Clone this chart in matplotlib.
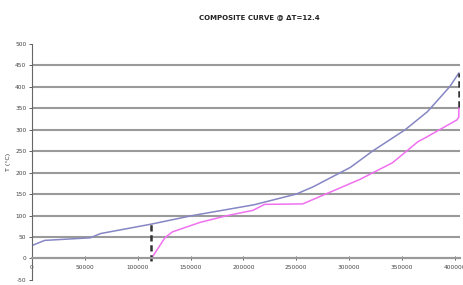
import numpy as np
import matplotlib.pyplot as plt

# ================================================================
# Data
# ================================================================
HOT_X = [0, 12000, 55000, 65000, 113000, 152000, 210000, 250000, 266000,
         301000, 322000, 353000, 374000, 395000, 403700]
HOT_T = [30, 42, 48, 58, 80, 100, 125, 150, 167,
         212, 250, 300, 342, 400, 432]

COLD_X = [113000, 126000, 133000, 159000, 185000, 209000, 220000, 256000,
          310000, 341000, 365000, 374000, 402000, 403700, 403700]
COLD_T = [0, 49, 62, 84, 100, 112, 126, 127,
          184, 223, 272, 284, 323, 330, 352]

PINCH_LOW = (113000, -5, 80)       # x, y from, y to
PINCH_HIGH = (403700, 352, 432)

X_TICKS = [0, 50000, 100000, 150000, 200000, 250000, 300000, 350000, 400000]
Y_TICKS = [-50, 0, 50, 100, 150, 200, 250, 300, 350, 400, 450, 500]

# ================================================================
# Figure
# ================================================================
fig = plt.figure(figsize=(4.63, 2.85), dpi=100)
ax = fig.add_axes([0.069, 0.018, 0.925, 0.828])

ax.plot(HOT_X, HOT_T, color="#8686c4", lw=1.1)
ax.plot(COLD_X, COLD_T, color="#f070f0", lw=1.1)
for x, y0, y1 in (PINCH_LOW, PINCH_HIGH):
    ax.plot([x, x], [y0, y1], color="#333333", lw=1.8, ls=(0, (2.5, 1.5)))

ax.set_xlim(0, 405000)
ax.set_ylim(-50, 500)
ax.set_xticks(X_TICKS)
ax.set_yticks(Y_TICKS)
ax.set_xticklabels([str(v) for v in X_TICKS])
ax.set_yticklabels([str(v) for v in Y_TICKS])

ax.grid(axis="y", color="#9a9a9a", lw=1.5)
gl = ax.get_ygridlines()
gl[0].set_visible(False)
gl[-1].set_visible(False)
ax.set_axisbelow(True)

for s in ("top", "right"):
    ax.spines[s].set_visible(False)
ax.spines["bottom"].set_position(("data", 0))
ax.spines["bottom"].set_color("#9a9a9a")
ax.spines["bottom"].set_linewidth(1.5)
ax.spines["left"].set_color("#666666")
ax.spines["left"].set_linewidth(0.8)

ax.tick_params(axis="both", labelsize=4.2, colors="#444444", length=2,
               width=0.6, pad=2)
ax.tick_params(axis="x", direction="inout", length=3, pad=3)

ax.set_ylabel("T (°C)", fontsize=4.5, color="#333333", labelpad=3)
fig.text(0.56, 0.94, "COMPOSITE CURVE @ ΔT=12.4", ha="center", va="center",
         fontsize=5, fontweight="bold", color="#222222")

fig.savefig("out.png", dpi=100)
